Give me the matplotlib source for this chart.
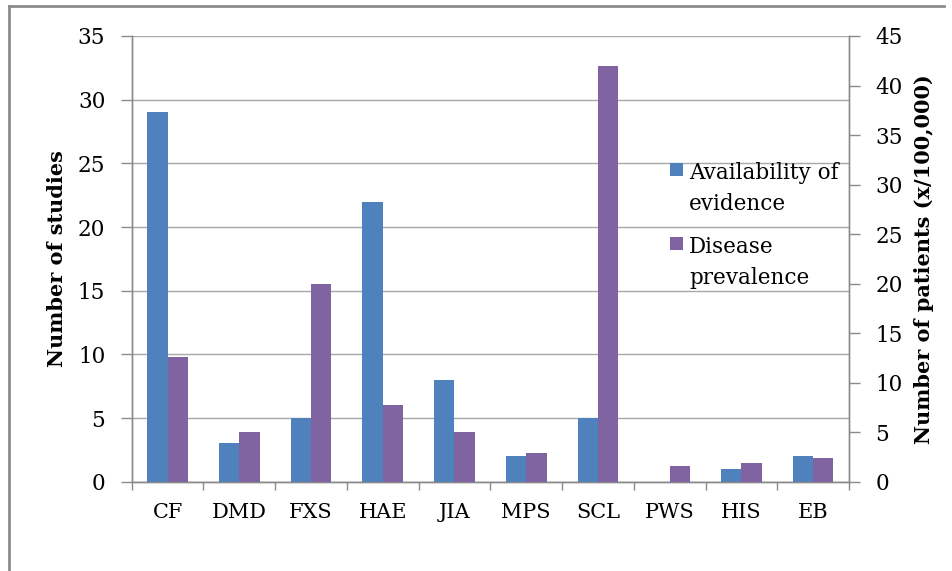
import matplotlib
matplotlib.use("Agg")
import matplotlib.pyplot as plt
import numpy as np
from matplotlib.patches import Rectangle
from matplotlib.lines import Line2D

categories = ["CF", "DMD", "FXS", "HAE", "JIA", "MPS", "SCL", "PWS", "HIS", "EB"]
studies = [29, 3, 5, 22, 8, 2, 5, 0, 1, 2]
prevalence = [12.6, 5.0, 20.0, 7.7, 5.0, 2.9, 42.0, 1.6, 1.9, 2.4]
left_ticks = [0, 5, 10, 15, 20, 25, 30, 35]
right_ticks = [0, 5, 10, 15, 20, 25, 30, 35, 40, 45]

BLUE = "#4F81BD"
PURPLE = "#8064A2"
GRID = "#a8a8a8"
SPINE = "#8a8a8a"
FONT = "DejaVu Serif"

W, H = 953, 571
fig = plt.figure(figsize=(W / 100, H / 100), dpi=100)
ax = fig.add_axes([131.7 / W, 1 - 481.7 / H, (849 - 131.7) / W, (481.7 - 36) / H])
ax2 = ax.twinx()

x = np.arange(len(categories))
bw = 0.283
ax.bar(x - bw / 2, studies, width=bw, color=BLUE, zorder=3)
ax2.bar(x + bw / 2, prevalence, width=bw, color=PURPLE, zorder=3)

ax.set_xlim(-0.5, len(categories) - 0.5)
ax.set_ylim(0, 35)
ax2.set_ylim(0, 45)
ax.set_yticks(left_ticks)
ax2.set_yticks(right_ticks)
ax.set_xticks(x)
ax.set_xticklabels(categories, fontfamily=FONT, fontsize=15)
ax.set_xticks(np.arange(-0.5, len(categories), 1.0), minor=True)
ax.tick_params(axis="x", which="major", length=0, pad=15)
ax.tick_params(axis="x", which="minor", length=6, color=SPINE, width=1, direction="out")
ax.tick_params(axis="y", length=8, color=SPINE, width=1, pad=11, labelsize=15.5)
ax2.tick_params(axis="y", length=8, color=SPINE, width=1, pad=11, labelsize=15.5)
for lab in ax.get_yticklabels() + ax2.get_yticklabels():
    lab.set_fontfamily(FONT)

ax.yaxis.grid(True, color=GRID, linewidth=1)
ax.set_axisbelow(True)

for a in (ax, ax2):
    a.spines["top"].set_visible(False)
    for s in ("left", "right", "bottom"):
        a.spines[s].set_color(SPINE)
        a.spines[s].set_linewidth(1)

ax.set_ylabel("Number of studies", fontfamily=FONT, fontweight="bold", fontsize=15, labelpad=8)
ax2.set_ylabel("Number of patients (x/100,000)", fontfamily=FONT, fontweight="bold",
               fontsize=15, rotation=90, labelpad=8)

# legend drawn manually (markers aligned with first line, as in reference)
def px(xp, yp):
    return xp / W, 1 - yp / H

legend_items = [("Availability of\nevidence", BLUE, 163), ("Disease\nprevalence", PURPLE, 237)]
for label, col, ytop in legend_items:
    x0, y0 = px(670, ytop + 13)
    fig.add_artist(Rectangle((x0, y0), 13 / W, 13 / H, transform=fig.transFigure,
                             facecolor=col, edgecolor="none"))
    tx, ty = px(689, ytop - 1)
    fig.text(tx, ty, label, fontfamily=FONT, fontsize=15.5, va="top", ha="left",
             linespacing=1.55)

# outer border lines (top and left)
fig.add_artist(Line2D([9 / W, 944 / W], [1 - 6 / H, 1 - 6 / H], transform=fig.transFigure,
                      color="#8c8c8c", linewidth=2))
fig.add_artist(Line2D([9 / W, 9 / W], [1 - 6 / H, 0], transform=fig.transFigure,
                      color="#8c8c8c", linewidth=2))

fig.savefig("out.png", dpi=100)
